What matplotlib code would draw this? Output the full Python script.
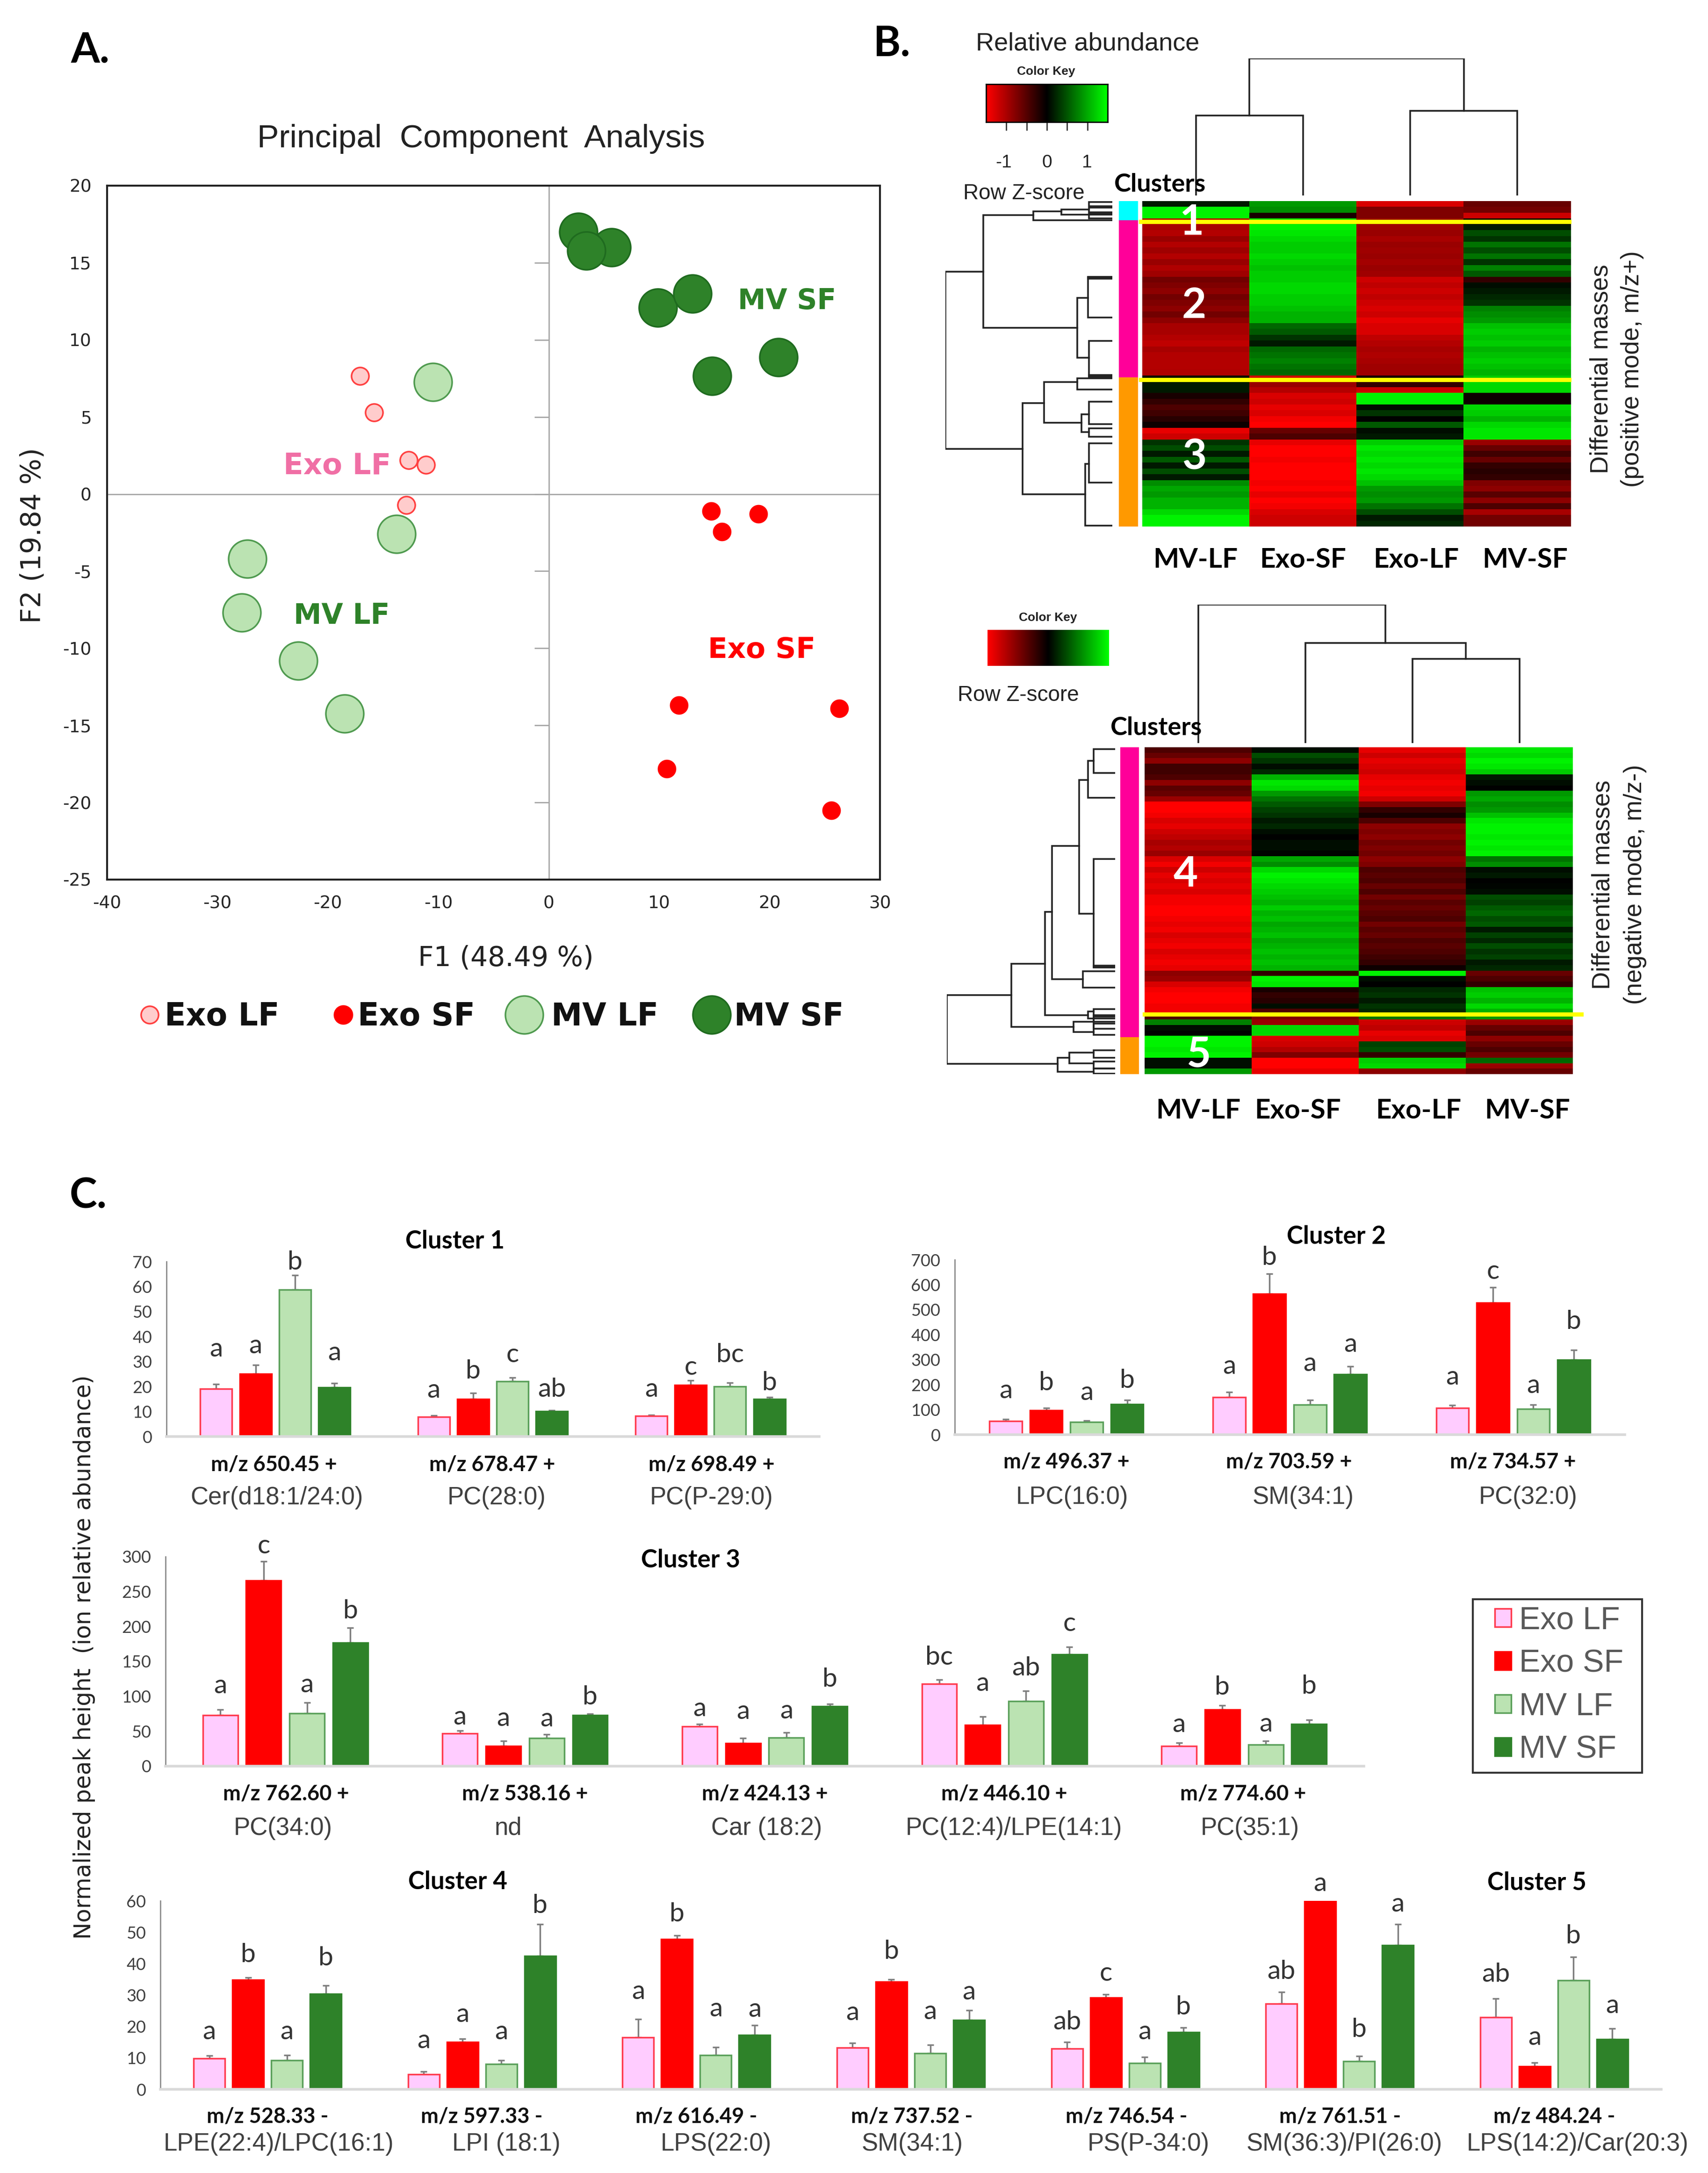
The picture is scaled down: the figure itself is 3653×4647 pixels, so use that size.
import numpy as np
import matplotlib
matplotlib.use("Agg")
import matplotlib.pyplot as plt
from matplotlib.colors import LinearSegmentedColormap
from matplotlib.patches import Patch, Rectangle

plt.rcParams["axes.unicode_minus"] = False

W, H = 3653, 4647

# ---- PCA scores
exo_lf_x = [-17.1, -15.8, -12.7, -11.1, -12.9]
exo_lf_y = [7.66, 5.3, 2.2, 1.9, -0.7]
exo_sf_x = [14.7, 15.7, 19.0, 11.8, 26.3, 10.7, 25.6]
exo_sf_y = [-1.1, -2.45, -1.3, -13.7, -13.9, -17.8, -20.5]
mv_lf_x = [-10.5, -13.8, -27.3, -27.8, -22.7, -18.5]
mv_lf_y = [7.26, -2.6, -4.2, -7.7, -10.8, -14.25]
mv_sf_x = [2.7, 5.7, 3.4, 9.9, 13.0, 14.8, 20.8]
mv_sf_y = [17.0, 16.0, 15.8, 12.1, 13.0, 7.66, 8.86]

# ---- heatmaps, row z-scores, columns in plot order
top_mv_lf = [0.1, .95, .95, -.7, -.65, -.7, -.6, -.7, -.62, -.7, -.6, -.68, -.62, -.45, -.5, -.55, -.45, -.5, -.55, -.45,
             -.55, -.65, -.65, -.7, -.75, -.65, -.7, -.7, -.7, -.68, .05, .1, .1, -.1, -.2, -.3, -.25, -.15, -.05, -.9,
             -.8, .2, .3, .1, .35, .1, .3, .1, .55, .65, .6, .7, .7, .85, .95, .95]
top_exo_sf = [.6, .55, -.1, .9, .95, .9, .85, .8, .8, .85, .8, .75, .8, .8, .85, .85, .8, .8, .75, .7,
              .7, .4, .35, .2, .1, .4, .45, .5, .45, .4, -.8, -.6, -.7, -.85, -.8, -.9, -.85, -.95, -1, -.4,
              -.3, -.9, -1, -1, -.95, -1, -1, -1, -.95, -1, -.9, -1, -.95, -.85, -.8, -.8]
top_exo_lf = [-.85, -.5, -.5, -.6, -.62, -.6, -.65, -.6, -.62, -.6, -.64, -.6, -.62, -.8, -.75, -.8, -.75, -.8, -.85, -.8,
              -.9, -.85, -.85, -.75, -.7, -.65, -.68, -.65, -.62, -.62, -.1, -.2, -.8, .95, .95, .05, .2, 0, .35, .05,
              .1, .8, .9, .85, .9, .85, .9, .85, .75, .6, .55, .6, .45, .3, .1, .15]
top_mv_sf = [-.4, -.45, -.8, .05, .1, .3, .2, .45, .3, .45, .2, .5, .35, -.2, .05, .1, .15, .2, .5, .55,
             .6, .75, .8, .75, .8, .7, .75, .8, .75, .7, .8, .85, .85, -.05, -.05, .85, .8, .7, .85, .9,
             .9, -.6, -.4, -.25, -.4, -.2, -.15, -.2, -.5, -.55, -.35, -.55, -.3, -.65, -.45, -.45]

bot_mv_lf = [-.3, -.4, -.55, -.25, -.25, -.3, -.55, -.35, -.4, -.6, -1, -1, -.95, -.85, -.9, -.8, -.75, -.65, -.7, -.6,
             -.85, -.95, -.8, -.9, -.85, -.9, -.85, -.95, -.95, -1, -1, -.95, -.9, -.95, -.85, -.9, -.95, -.85, -.9, -.95,
             -.9, -.55, -.6, -.85, -.95, -1, -1, -.95, -.95, -.3, .5, .05, 0, .95, .95, .9, .95, .05, .05, .6]
bot_exo_sf = [.05, .3, .2, .05, .15, .7, .9, .85, .6, .45, .35, .25, .2, .1, .15, .05, 0, .05, .05, .02,
              .65, .55, .85, .95, .9, .85, .8, .75, .7, .8, .7, .75, .65, .7, .75, .65, .7, .75, .7, .75,
              .7, -.2, .95, .9, -.1, -.2, -.15, .05, -.3, -.5, -.6, .85, .85, -.85, -.8, -.7, -.5, -1, -1, -.9]
bot_exo_lf = [-.9, -.8, -.9, -.85, -.8, -.9, -.95, -.9, -.95, -.8, -.5, -.2, -.1, -.3, -.55, -.5, -.55, -.45, -.5, -.45,
              -.55, -.5, -.3, -.35, -.3, -.4, -.3, -.45, -.35, -.4, -.35, -.3, -.45, -.35, -.4, -.3, -.35, -.3, -.25, -.2,
              -.05, .95, .05, 0, .15, .2, .1, .2, .15, .45, -.8, -.75, -.9, -.85, .25, .3, -.2, .8, .85, -.55]
bot_mv_sf = [.9, .85, .95, .9, .8, .1, .05, 0, .6, .65, .55, .6, .75, .9, .95, .95, .9, .95, .9, .95,
             .45, .55, .05, .1, 0, .02, .05, .3, .25, .35, .4, .3, .35, .1, .25, .15, .3, .2, .25, .1,
             .15, -.4, -.3, -.2, .75, .8, .7, .85, .7, .6, -.6, -.4, -.3, -.55, -.4, -.3, -.45, .4, -.6, -.4]

top_side_sizes = [52, 421, 400]
top_side_colors = ["#00ffff", "#ff0099", "#ff9900"]
bot_side_sizes = [845, 107]
bot_side_colors = ["#ff0099", "#ff9900"]

# dendrogram merges: height, child a, height a, child b, height b
top_col_links = [(215, 0, 0, 1, 0), (227, 2, 0, 3, 0), (368, 0.5, 215, 2.5, 227)]
bot_col_links = [(245, 2, 0, 3, 0), (292, 1, 0, 2.5, 245), (404, 0, 0, 1.75, 292)]
top_row_links = [(310, 190, 240, 665, 167), (240, 38, 147, 340, 65), (147, 28, 95, 52, 0), (95, 22, 43, 36, 0),
                 (43, 3, 0, 14, 0), (43, 18, 0, 30, 0), (43, 34, 0, 46, 0), (65, 260, 45, 420, 43),
                 (45, 205, 0, 312, 0), (45, 203, 0, 208, 0), (43, 375, 0, 470, 0), (43, 466, 0, 474, 0),
                 (167, 542, 127, 787, 50), (127, 485, 65, 595, 57), (65, 475, 0, 505, 0), (57, 572, 43, 620, 43),
                 (43, 538, 0, 598, 0), (43, 610, 0, 632, 0), (50, 705, 43, 870, 0), (43, 650, 0, 755, 0)]
bot_row_links = [(313, 722, 193, 922, 107), (193, 630, 130, 815, 77), (130, 480, 117, 780, 50),
                 (117, 288, 67, 675, 60), (67, 95, 50, 485, 40), (50, 40, 40, 147, 0), (40, 5, 0, 75, 0),
                 (40, 325, 0, 640, 0), (40, 636, 0, 642, 0), (60, 653, 0, 700, 0), (50, 770, 40, 790, 40),
                 (40, 763, 0, 785, 0), (40, 780, 0, 800, 0), (77, 800, 40, 830, 40), (40, 790, 0, 838, 0),
                 (40, 805, 0, 820, 0), (107, 905, 85, 945, 40), (85, 890, 40, 920, 40), (40, 883, 0, 905, 0),
                 (40, 915, 0, 935, 0), (40, 935, 0, 950, 0)]

heat_labels_top = ["MV-LF", "Exo-SF", "Exo-LF", "MV-SF"]

# ---- bar panels: groups x (Exo LF, Exo SF, MV LF, MV SF)
c1_vals = [[19, 25, 58.7, 19.7], [7.8, 15, 22.1, 10.2], [8.2, 20.5, 20, 15]]
c1_tops = [[21, 28.7, 64.6, 21.3], [8.4, 17.4, 23.5, 10.5], [8.7, 22.5, 21.6, 15.8]]
c1_letters = [["a", "a", "b", "a"], ["a", "b", "c", "ab"], ["a", "c", "bc", "b"]]
c1_letter_y = [[34.9, 36.3, 69.7, 33.5], [18.4, 26.2, 32.7, 18.8], [18.8, 27.6, 32.7, 21.5]]

c2_vals = [[54, 98, 51, 122], [150, 563, 119, 242], [107, 528, 103, 299]]
c2_tops = [[61, 107, 57, 138], [171, 643, 138, 274], [117, 589, 120, 339]]
c2_letters = [["a", "b", "a", "b"], ["a", "b", "a", "a"], ["a", "c", "a", "b"]]
c2_letter_y = [[175, 206, 168, 216], [272, 708, 283, 361], [230, 652, 196, 452]]

c3_vals = [[73, 265.6, 76, 176.6], [47, 29, 40, 73], [57, 33, 41, 86], [118, 59, 93, 160], [29, 81, 31, 60.5]]
c3_tops = [[81, 293, 91, 198], [51, 36, 45.5, 75], [60.5, 40, 48, 89], [124, 71, 108, 171], [33.5, 87, 36, 66]]
c3_letters = [["a", "c", "a", "b"], ["a", "a", "a", "b"], ["a", "a", "a", "b"], ["bc", "a", "ab", "c"], ["a", "b", "a", "b"]]
c3_letter_y = [[115, 315, 116, 222], [70, 68, 67, 99], [82, 78, 79, 124], [156, 118, 140, 204], [59, 113, 60, 114]]

c45_vals = [[9.9, 34.8, 9.2, 30.4], [4.8, 15, 8.1, 42.4], [16.6, 47.8, 10.9, 17.2], [13.3, 34.2, 11.4, 22],
            [13, 29.2, 8.3, 18.2], [27.3, 60, 9, 45.8], [23, 7.3, 34.7, 16]]
c45_tops = [[10.7, 35.6, 10.9, 33.1], [5.6, 16.1, 9.2, 52.5], [22.3, 49, 13.4, 20.4], [14.7, 35, 14.2, 25.1],
            [15.1, 30.2, 10.2, 19.6], [30.9, 60, 10.6, 52.6], [28.9, 8.5, 42.1, 19.3]]
c45_letters = [["a", "b", "a", "b"], ["a", "a", "a", "b"], ["a", "b", "a", "a"], ["a", "b", "a", "a"],
               ["ab", "c", "a", "b"], ["ab", "a", "b", "a"], ["ab", "a", "b", "a"]]
c45_letter_y = [[18.3, 42.8, 18.3, 41.7], [15.4, 23.8, 18.3, 58.4], [31.1, 55.8, 25.6, 25.4], [24.3, 43.9, 24.7, 30.9],
                [21.3, 36.9, 18.3, 26.2], [37.5, 65.4, 19, 58.9], [36.5, 16.4, 48.7, 26.6]]

c1_mz = ["m/z 650.45 +", "m/z 678.47 +", "m/z 698.49 +"]
c1_names = ["Cer(d18:1/24:0)", "PC(28:0)", "PC(P-29:0)"]
c2_mz = ["m/z 496.37 +", "m/z 703.59 +", "m/z 734.57 +"]
c2_names = ["LPC(16:0)", "SM(34:1)", "PC(32:0)"]
c3_mz = ["m/z 762.60 +", "m/z 538.16 +", "m/z 424.13 +", "m/z 446.10 +", "m/z 774.60 +"]
c3_names = ["PC(34:0)", "nd", "Car (18:2)", "PC(12:4)/LPE(14:1)", "PC(35:1)"]
c45_mz = ["m/z 528.33 -", "m/z 597.33 -", "m/z 616.49 -", "m/z 737.52 -", "m/z 746.54 -", "m/z 761.51 -", "m/z 484.24 -"]
c45_names = ["LPE(22:4)/LPC(16:1)", "LPI (18:1)", "LPS(22:0)", "SM(34:1)", "PS(P-34:0)", "SM(36:3)/PI(26:0)", "LPS(14:2)/Car(20:3)"]

PINK, RED, LGREEN, DGREEN = "#ffccff", "#ff0000", "#bbe3b2", "#2e8229"
bar_faces = [PINK, RED, LGREEN, DGREEN]
bar_edges = ["#ff3b4e", "#ff0000", "#5aa05a", "#2e8229"]
group_names = ["Exo LF", "Exo SF", "MV LF", "MV SF"]

BOLD = ["Lato", "Open Sans"]
SANS = ["Liberation Sans"]
WIDE = ["DejaVu Sans"]
TXT = "#404040"

fig = plt.figure(figsize=(W / 100, H / 100), dpi=100, facecolor="white")


def ax_px(left, top, right, bottom):
    return fig.add_axes([left / W, 1 - bottom / H, (right - left) / W, (bottom - top) / H])


def draw_links(ax, links, horizontal, lw=2.6):
    for h, a, ha, b, hb in links:
        xs = [ha, h, h, hb]
        ys = [a, a, b, b]
        if horizontal:
            ax.plot(xs, ys, color="#222222", lw=lw, solid_joinstyle="miter")
        else:
            ax.plot(ys, xs, color="#222222", lw=lw, solid_joinstyle="miter")
    ax.axis("off")


# ---- panel A
ax = ax_px(229, 397, 1882, 1881)
ax.set_xlim(-40, 30)
ax.set_ylim(-25, 20)
ax.axvline(0, color="#a6a6a6", lw=2, zorder=1)
ax.axhline(0, color="#a6a6a6", lw=2, zorder=1)
ax.hlines(np.arange(-20, 21, 5), -1.3, 0, color="#a6a6a6", lw=2, zorder=1)
ax.scatter(exo_lf_x, exo_lf_y, s=720, facecolor="#ffcccc", edgecolor="#ff4040", lw=2.5, zorder=3)
ax.scatter(exo_sf_x, exo_sf_y, s=760, facecolor="#ff0000", edgecolor="#ff0000", lw=1, zorder=3)
ax.scatter(mv_lf_x, mv_lf_y, s=3400, facecolor=LGREEN, edgecolor="#4f9a4f", lw=2.5, zorder=3)
ax.scatter(mv_sf_x, mv_sf_y, s=3400, facecolor=DGREEN, edgecolor="#1f6b1f", lw=2.5, zorder=3)
ax.set_xticks(np.arange(-40, 31, 10))
ax.set_yticks(np.arange(-25, 21, 5))
ax.tick_params(length=0, labelsize=27, labelcolor="#262626", pad=24)
for s in ax.spines.values():
    s.set_linewidth(3)
    s.set_color("#222222")
for t in ax.get_xticklabels() + ax.get_yticklabels():
    t.set_family(WIDE)

# ---- panel B
red_black_green = LinearSegmentedColormap.from_list("rbg", ["#ff0000", "#000000", "#00ff00"])

# top heatmap
ax = ax_px(2443, 430, 3360, 1126)
ax.imshow(np.array([top_mv_lf, top_exo_sf, top_exo_lf, top_mv_sf]).T, cmap=red_black_green, vmin=-1, vmax=1,
          aspect="auto", interpolation="nearest")
ax.axis("off")

ax = ax_px(2393, 430, 2434, 1126)
ax.bar(0, top_side_sizes, bottom=np.cumsum([0] + top_side_sizes[:-1]), width=1, color=top_side_colors)
ax.set_xlim(-.5, .5)
ax.set_ylim(873, 0)
ax.axis("off")

ax = ax_px(2022, 430, 2379, 1126)
ax.set_xlim(310, 0)
ax.set_ylim(873, 0)
draw_links(ax, top_row_links, True)

ax = ax_px(2443, 125, 3360, 418)
ax.set_xlim(-.5, 3.5)
ax.set_ylim(0, 368)
draw_links(ax, top_col_links, False)

ax = ax_px(2109, 180, 2369, 261)
ax.imshow(np.linspace(-1, 1, 256)[None, :], cmap=red_black_green, aspect="auto", extent=(-1.5, 1.5, 0, 1))
ax.set_yticks([])
ax.set_xticks([-1, -.5, 0, .5, 1])
ax.set_xticklabels([])
ax.tick_params(length=13, width=2, color="#333333")
for s in ax.spines.values():
    s.set_linewidth(2)

# bottom heatmap
ax = ax_px(2448, 1598, 3364, 2297)
ax.imshow(np.array([bot_mv_lf, bot_exo_sf, bot_exo_lf, bot_mv_sf]).T, cmap=red_black_green, vmin=-1, vmax=1,
          aspect="auto", interpolation="nearest")
ax.axis("off")

ax = ax_px(2396, 1598, 2436, 2297)
ax.bar(0, bot_side_sizes, bottom=np.cumsum([0] + bot_side_sizes[:-1]), width=1, color=bot_side_colors)
ax.set_xlim(-.5, .5)
ax.set_ylim(952, 0)
ax.axis("off")

ax = ax_px(2025, 1598, 2385, 2297)
ax.set_xlim(313, 0)
ax.set_ylim(952, 0)
draw_links(ax, bot_row_links, True)

ax = ax_px(2448, 1293, 3364, 1589)
ax.set_xlim(-.5, 3.5)
ax.set_ylim(0, 404)
draw_links(ax, bot_col_links, False)

ax = ax_px(2112, 1347, 2372, 1424)
ax.imshow(np.linspace(-1, 1, 256)[None, :], cmap=red_black_green, aspect="auto")
ax.axis("off")


# ---- panel C
def draw_panel(box, vals, tops, letters, letter_y, ymax, ystep):
    ax = ax_px(*box)
    n = len(vals)
    for i in range(n):
        for j in range(4):
            x = i + (j - 1.5) * 0.181
            ax.bar(x, vals[i][j], width=0.146, color=bar_faces[j], edgecolor=bar_edges[j], lw=2.5, zorder=2)
            ax.errorbar(x, vals[i][j], yerr=[[0], [tops[i][j] - vals[i][j]]], color="#7f7f7f", lw=2.5,
                        capsize=5, capthick=2.5, zorder=1)
            ax.text(x, letter_y[i][j], letters[i][j], ha="center", va="center", fontsize=41, family=BOLD,
                    color="#333333", zorder=4)
    ax.set_xlim(-.5, n - .5)
    ax.set_ylim(0, ymax)
    ax.set_xticks([])
    ax.set_yticks(np.arange(0, ymax + 1, ystep))
    ax.tick_params(length=0, labelsize=26, labelcolor=TXT, pad=22)
    for t in ax.get_yticklabels():
        t.set_family(BOLD)
    ax.spines["top"].set_visible(False)
    ax.spines["right"].set_visible(False)
    ax.spines["left"].set_color("#8c8c8c")
    ax.spines["left"].set_linewidth(2)
    ax.spines["bottom"].set_color("#d9d9d9")
    ax.spines["bottom"].set_linewidth(4)
    return ax


draw_panel((356, 2698, 1752, 3072), c1_vals, c1_tops, c1_letters, c1_letter_y, 70, 10)
draw_panel((2042, 2694, 3475, 3068), c2_vals, c2_tops, c2_letters, c2_letter_y, 700, 100)
draw_panel((354, 3329, 2917, 3777), c3_vals, c3_tops, c3_letters, c3_letter_y, 300, 50)
draw_panel((343, 4065, 3553, 4468), c45_vals, c45_tops, c45_letters, c45_letter_y, 60, 10)

# ---- everything placed by hand on the page goes on an overlay in pixels
ov = fig.add_axes([0, 0, 1, 1], facecolor="none")
ov.set_xlim(0, W)
ov.set_ylim(H, 0)
ov.axis("off")


def put(x, y, s, size, family=SANS, weight="normal", color="#222222", rot=0, ha="center"):
    ov.text(x, y + 4, s, fontsize=size, family=family, weight=weight, color=color, rotation=rot, ha=ha, va="center")


# panel letters
put(193, 103, "A.", 64, BOLD, "bold", "black")
put(1908, 89, "B.", 64, BOLD, "bold", "black")
put(189, 2553, "C.", 64, BOLD, "bold", "black")

# panel A texts
put(1029, 293, "Principal  Component  Analysis", 50)
put(1082, 2045, "F1 (48.49 %)", 42, WIDE)
put(70, 1141, "F2 (19.84 %)", 42, WIDE, rot=90)
put(721, 993, "Exo LF", 45, WIDE, "bold", "#f06fa5")
put(731, 1314, "MV LF", 43, WIDE, "bold", DGREEN)
put(1683, 641, "MV SF", 43, WIDE, "bold", DGREEN)
put(1629, 1386, "Exo SF", 44, WIDE, "bold", "#ff0000")

legend_x = [320, 734, 1121, 1522]
legend_text_x = [352, 765, 1179, 1570]
legend_s = [720, 760, 3400, 3400]
legend_edge = ["#ff4040", "#ff0000", "#4f9a4f", "#1f6b1f"]
legend_face = ["#ffcccc", "#ff0000", LGREEN, DGREEN]
for i in range(4):
    ov.scatter(legend_x[i], 2170, s=legend_s[i], facecolor=legend_face[i], edgecolor=legend_edge[i], lw=2.5)
    put(legend_text_x[i], 2170, group_names[i], 48, WIDE, "bold", "#111111", ha="left")

# panel B texts
put(2326, 89, "Relative abundance", 39)
put(2237, 149, "Color Key", 19, SANS, "bold")
put(2147, 344, "-1", 28)
put(2239, 344, "0", 28)
put(2325, 344, "1", 28)
put(2190, 410, "Row Z-score", 33)
put(2481, 391, "Clusters", 39, BOLD, "bold", "black")
put(2241, 1317, "Color Key", 19, SANS, "bold")
put(2178, 1483, "Row Z-score", 33)
put(2473, 1553, "Clusters", 39, BOLD, "bold", "black")

ov.plot([2440, 3356], [474, 474], color="#ffff00", lw=6.5)
ov.plot([2440, 3356], [812, 812], color="#ffff00", lw=6.5)
ov.plot([2448, 3382], [2169, 2169], color="#ffff00", lw=6.5)

for n, x, y in [("1", 2548, 472), ("2", 2554, 650), ("3", 2554, 973), ("4", 2536, 1866), ("5", 2563, 2251)]:
    put(x, y, n, 65, BOLD, "bold", "white")
for s, x in zip(heat_labels_top, [2557, 2787, 3029, 3262]):
    put(x, 1193, s, 42, BOLD, "bold", "black")
for s, x in zip(heat_labels_top, [2563, 2776, 3034, 3267]):
    put(x, 2372, s, 42, BOLD, "bold", "black")
put(3425, 785, "Differential masses", 38, rot=90)
put(3491, 785, "(positive mode, m/z+)", 38, rot=90)
put(3429, 1888, "Differential masses", 38, rot=90)
put(3497, 1888, "(negative mode, m/z-)", 38, rot=90)

# panel C texts
put(180, 3540, "Normalized peak height  (ion relative abundance)", 35, WIDE, rot=90)
put(973, 2650, "Cluster 1", 38, BOLD, "bold", "black")
put(2858, 2641, "Cluster 2", 38, BOLD, "bold", "black")
put(1477, 3333, "Cluster 3", 38, BOLD, "bold", "black")
put(979, 4021, "Cluster 4", 38, BOLD, "bold", "black")
put(3287, 4022, "Cluster 5", 38, BOLD, "bold", "black")

for labels, names, xs, xs2, y1, y2 in [
    (c1_mz, c1_names, [586, 1053, 1522], [592, 1062, 1522], 3128, 3199),
    (c2_mz, c2_names, [2281, 2757, 3236], [2293, 2787, 3268], 3122, 3198),
    (c3_mz, c3_names, [612, 1123, 1636, 2148, 2659], [605, 1087, 1640, 2168, 2673], 3832, 3906),
    (c45_mz, c45_names, [572, 1030, 1489, 1950, 2409, 2866, 3324], [596, 1083, 1531, 1951, 2456, 2875, 3374], 4523, 4581),
]:
    for i in range(len(labels)):
        put(xs[i], y1, labels[i], 32.5, BOLD, "bold", "#111111")
        put(xs2[i], y2, names[i], 38, SANS, color=TXT)

# frame drawn apart so the legend can sit with its wider left margin
ov.add_patch(Rectangle((3150, 3420), 362, 371, facecolor="white", edgecolor="#333333", lw=3, zorder=5))
handles = [Patch(facecolor=bar_faces[i], edgecolor=bar_edges[i], lw=2.5, label=group_names[i]) for i in range(4)]
leg = ov.legend(handles=handles, loc="upper left", bbox_to_anchor=(3197 / W, 1 - 3434 / H), bbox_transform=fig.transFigure,
                prop={"family": "Liberation Sans", "size": 49}, labelcolor="#595959", frameon=False,
                handlelength=0.51, handleheight=0.5, handletextpad=0.26, labelspacing=0.41,
                borderpad=0, borderaxespad=0)
leg.set_zorder(6)

fig.savefig("out.png", dpi=100)
